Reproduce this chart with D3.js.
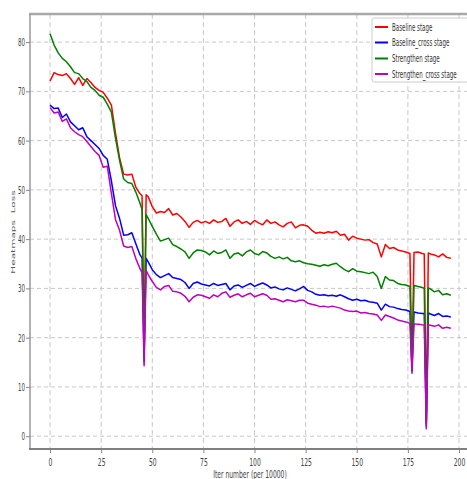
<!DOCTYPE html>
<html><head><meta charset="utf-8">
<script src="https://cdn.jsdelivr.net/npm/d3@7"></script>
<style>body{margin:0;background:#fff;} svg{display:block}</style>
</head><body>
<script>
const iters = [0,2,4,6,8,10,12,14,16,18,20,22,24,26,28,30,32,34,36,38,40,42,44,45,46,47,48,
50,52,54,56,58,60,62,64,66,68,70,72,74,76,78,80,82,84,86,88,90,92,94,96,98,
100,102,104,106,108,110,112,114,116,118,120,122,124,126,128,130,132,134,136,138,140,142,144,146,148,
150,152,154,156,158,160,162,164,166,168,170,172,174,176,177,178,180,182,183,184,185,186,188,190,192,194,196];

const baseline = [72.1,73.8,73.4,73.2,73.6,72.6,71.4,72.8,71.2,72.6,71.8,70.8,70.2,69.8,68.6,67.2,61.5,56.5,53.2,53.0,53.2,50.5,49.2,48.8,18.0,49.0,48.6,
46.6,45.3,45.6,45.4,46.2,44.9,45.2,44.5,43.6,42.4,43.4,43.8,43.3,43.6,43.2,43.9,43.4,43.6,44.2,42.6,43.5,43.9,43.2,43.6,43.0,
43.8,43.3,42.9,43.9,43.2,43.5,42.9,42.5,43.2,43.5,42.3,42.8,42.9,42.6,41.8,41.2,41.4,41.2,41.5,41.3,41.6,40.8,41.0,39.8,40.6,
40.2,40.0,39.8,39.9,39.3,39.0,36.4,38.9,38.1,38.3,37.8,37.6,37.4,37.1,14.0,37.3,37.4,37.1,37.0,3.0,37.2,37.0,36.8,36.4,37.0,36.3,36.1];

const baselineCross = [67.2,66.5,66.6,64.7,65.4,63.8,63.0,62.2,62.6,60.8,60.0,59.2,58.4,57.0,56.2,51.8,46.8,44.2,40.8,40.9,41.3,39.0,36.8,36.2,16.0,36.1,35.4,
33.8,32.8,32.2,32.6,33.0,32.2,32.0,31.8,31.2,30.0,31.0,31.3,30.9,30.7,30.5,31.0,30.6,30.8,31.0,29.7,30.5,30.7,30.2,30.6,31.0,
30.4,30.8,31.1,30.7,30.1,30.3,29.9,29.7,30.1,29.8,29.5,29.9,30.4,29.6,29.3,28.8,28.6,28.7,28.5,28.6,28.4,28.7,28.3,27.9,27.6,
27.8,27.5,27.6,27.3,27.2,27.0,25.6,26.8,26.3,26.2,25.9,25.7,25.6,25.3,13.6,25.2,25.0,24.9,24.9,2.5,25.0,24.8,24.5,24.9,24.3,24.4,24.2];

const strengthen = [81.7,79.4,77.8,76.7,76.0,75.0,73.8,73.6,72.6,72.0,70.8,70.2,69.2,68.8,67.4,65.8,60.5,56.0,52.2,51.5,51.3,49.5,47.3,46.0,15.0,45.0,44.2,
42.6,41.0,39.6,39.9,40.2,38.9,38.5,38.0,37.4,36.1,37.2,37.8,37.7,37.4,36.8,37.6,37.1,37.3,37.8,36.1,37.0,37.2,36.6,37.4,37.8,
37.1,36.8,37.5,37.2,36.5,36.1,36.4,36.0,36.3,35.6,35.4,35.6,35.2,35.0,34.9,34.7,34.5,34.8,34.6,34.9,35.1,34.4,33.8,33.4,34.0,
33.5,33.4,33.2,33.0,33.3,32.4,30.0,32.4,31.7,31.6,31.0,30.8,30.7,30.4,13.2,30.6,30.4,30.2,30.0,2.0,30.1,29.9,29.3,29.6,28.7,28.9,28.6];

const strengthenCross = [66.7,65.6,65.8,63.9,64.4,62.6,61.8,61.2,60.8,59.8,58.8,57.8,57.0,54.6,54.8,49.3,44.0,41.8,38.6,38.3,38.5,36.0,34.0,33.2,14.3,33.6,32.8,
31.4,30.2,29.7,30.4,30.6,29.4,29.3,29.0,28.4,27.3,28.2,28.7,28.6,28.3,28.0,28.7,28.3,29.0,29.3,28.2,28.6,28.9,28.3,28.7,29.0,
28.3,28.6,28.9,28.6,27.8,27.9,27.6,27.3,27.7,27.5,27.3,27.6,27.6,27.0,26.8,26.6,26.3,26.4,26.2,26.4,26.2,26.0,25.6,25.4,25.3,
25.4,25.0,25.1,24.9,24.8,24.6,23.5,24.6,24.3,24.0,23.6,23.4,23.2,22.9,12.8,22.8,22.7,22.6,22.5,1.5,22.6,22.5,22.3,22.6,21.9,22.1,21.9];

const seriesNames = ["Baseline stage","Baseline_cross stage","Strengthen stage","Strengthen_cross stage"];
const seriesColors = ["#ff0000","#0000ff","#008000","#bf00bf"];
const seriesValues = [baseline, baselineCross, strengthen, strengthenCross];
const xTicks = [0,25,50,75,100,125,150,175,200];
const yTicks = [0,10,20,30,40,50,60,70,80];
const xLabel = "Iter number (per 10000)";
const yLabel = "Heatmaps  Loss";

const W = 467, H = 479;
const SX = 0.55;
const FONT = "'DejaVu Sans', sans-serif";

const svg = d3.select("body").append("svg").attr("width", W).attr("height", H);
const defs = svg.append("defs");
defs.append("filter").attr("id","soft").attr("x","-5%").attr("y","-5%").attr("width","110%").attr("height","110%")
  .append("feGaussianBlur").attr("stdDeviation", 0.35);

const x = d3.scaleLinear().domain([-9.8, 204.2]).range([30, 467.6]);
const y = d3.scaleLinear().domain([-2.6, 85.7]).range([449, 14]);

// grid
const grid = svg.append("g");
grid.selectAll(".vg").data(xTicks).join("line")
  .attr("x1", d => x(d)).attr("x2", d => x(d)).attr("y1", y(85.7)).attr("y2", y(-2.6))
  .attr("stroke", "#c8c8c8").attr("stroke-width", 1).attr("stroke-dasharray", "5,3");
grid.selectAll(".hg").data(yTicks).join("line")
  .attr("x1", x(-9.8)).attr("x2", W).attr("y1", d => y(d)).attr("y2", d => y(d))
  .attr("stroke", "#c8c8c8").attr("stroke-width", 1).attr("stroke-dasharray", "4,3");

// frame
svg.append("line").attr("x1", 29).attr("x2", W).attr("y1", 14).attr("y2", 14).attr("stroke", "#a8a8a8").attr("stroke-width", 2.5);
svg.append("line").attr("x1", 30).attr("x2", 30).attr("y1", 14).attr("y2", 449).attr("stroke", "#999").attr("stroke-width", 1.5);
svg.append("line").attr("x1", 29).attr("x2", W).attr("y1", 449).attr("y2", 449).attr("stroke", "#808080").attr("stroke-width", 2);

// axes
const xAxis = svg.append("g").attr("transform", "translate(0,449)")
  .call(d3.axisBottom(x).tickValues(xTicks).tickSize(4).tickSizeOuter(0));
xAxis.select(".domain").remove();
xAxis.selectAll(".tick line").attr("stroke", "#888");
xAxis.selectAll(".tick text").attr("font-family", FONT).attr("font-size", 11).attr("fill", "#444")
  .attr("y", 0).attr("dy", 0).attr("transform", `translate(0,16.5) scale(${SX},1)`);

const yAxis = svg.append("g").attr("transform", "translate(30,0)")
  .call(d3.axisLeft(y).tickValues(yTicks).tickSize(4).tickSizeOuter(0));
yAxis.select(".domain").remove();
yAxis.selectAll(".tick line").attr("stroke", "#888");
yAxis.selectAll(".tick text").attr("font-family", FONT).attr("font-size", 10).attr("fill", "#444")
  .attr("x", 0).attr("dy", "0.35em").attr("transform", `translate(-5,0) scale(${SX},1)`);

// labels
svg.append("text").attr("transform", `translate(250,478) scale(${SX},1)`)
  .attr("text-anchor", "middle").attr("font-family", FONT).attr("font-size", 11).attr("fill", "#444").text(xLabel);
svg.append("text").attr("transform", `translate(15,232) rotate(-90) scale(1,${SX})`)
  .attr("text-anchor", "middle").attr("font-family", FONT).attr("font-size", 10.5).attr("fill", "#555")
  .style("white-space", "pre").text(yLabel);

// lines
const clip = defs.append("clipPath").attr("id", "plotclip");
clip.append("rect").attr("x", 30).attr("y", 14).attr("width", W - 30).attr("height", 435);
const line = d3.line().x((d, i) => x(iters[i])).y(d => y(d));
const lines = svg.append("g").attr("clip-path", "url(#plotclip)").append("g").attr("filter", "url(#soft)");
seriesValues.forEach((vals, k) => {
  lines.append("path").datum(vals).attr("d", line)
    .attr("fill", "none").attr("stroke", seriesColors[k]).attr("stroke-width", 1.5)
    .attr("stroke-linejoin", "round");
});

// legend
const lg = svg.append("g");
lg.append("rect").attr("x", 372).attr("y", 18).attr("width", 110).attr("height", 64).attr("rx", 2)
  .attr("fill", "#fff").attr("stroke", "#ccc").attr("stroke-width", 1);
const rowY = [27, 42.5, 58.5, 74];
seriesNames.forEach((name, k) => {
  lg.append("line").attr("x1", 375).attr("x2", 388).attr("y1", rowY[k]).attr("y2", rowY[k])
    .attr("stroke", seriesColors[k]).attr("stroke-width", 2);
  lg.append("text").attr("transform", `translate(392,${rowY[k] + 3.5}) scale(${SX},1)`)
    .attr("font-family", FONT).attr("font-size", 10).attr("fill", "#333").text(name);
});
</script>
</body></html>
